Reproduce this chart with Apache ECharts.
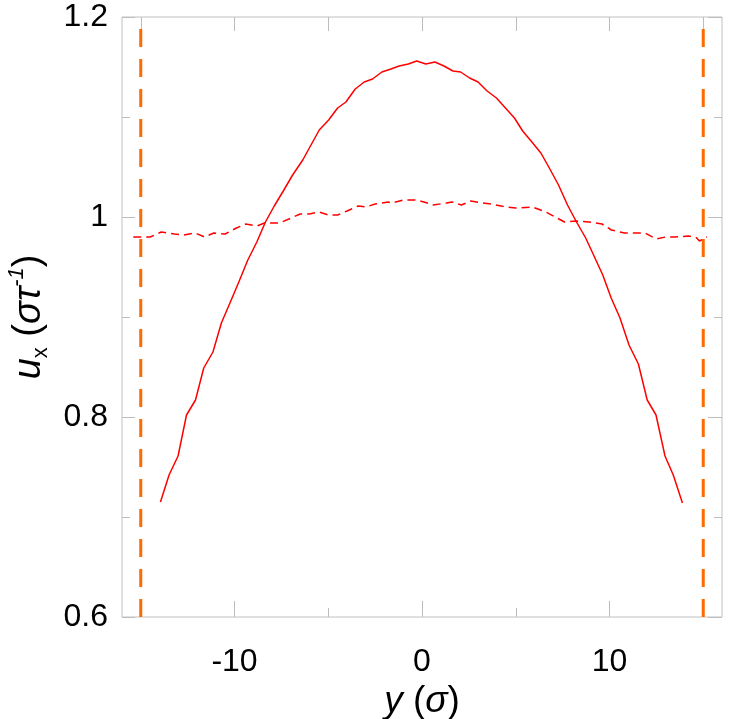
<!DOCTYPE html>
<html>
<head>
<meta charset="UTF-8">
<script src="https://cdn.jsdelivr.net/npm/echarts@6/dist/echarts.min.js"></script>
<style>
    html, body { margin: 0; padding: 0; background: #ffffff; }
    #container { width: 733px; height: 719px; }
</style>
</head>
<body>
<div id="container"></div>
<script>
// solid curve (flow profile)
var solidX = [-13.95, -13.49, -13.01, -12.56, -12.08, -11.64, -11.15, -10.70, -10.22, -9.77,
              -9.29, -8.81, -8.35, -7.88, -7.43, -6.90, -6.36, -5.92, -5.48, -4.98,
              -4.50, -4.06, -3.56, -3.08, -2.64, -2.14, -1.66, -1.22, -0.73, -0.28,
              0.20, 0.69, 1.17, 1.65, 2.06, 2.54, 2.99, 3.47, 3.97, 4.45,
              4.93, 5.37, 5.86, 6.34, 6.79, 7.28, 7.76, 8.24, 8.73, 9.20,
              9.64, 10.09, 10.56, 11.04, 11.54, 12.01, 12.48, 12.96, 13.40, 13.89];
var solidY = [0.715, 0.742, 0.761, 0.802, 0.817, 0.849, 0.865, 0.894, 0.915, 0.935,
              0.957, 0.975, 0.995, 1.011, 1.025, 1.042, 1.057, 1.072, 1.087, 1.097,
              1.109, 1.115, 1.128, 1.135, 1.138, 1.145, 1.148, 1.151, 1.153, 1.156,
              1.153, 1.155, 1.151, 1.146, 1.145, 1.139, 1.135, 1.126, 1.119, 1.109,
              1.099, 1.086, 1.075, 1.064, 1.049, 1.032, 1.012, 0.995, 0.979, 0.960,
              0.942, 0.919, 0.899, 0.872, 0.853, 0.817, 0.802, 0.761, 0.742, 0.714];

// dashed curve (nearly flat profile)
var dashX = [-15.4, -14.5, -13.9, -13.2, -12.7, -12.1, -11.6, -11.1, -10.5, -9.9,
             -9.4, -8.8, -8.4, -7.6, -7.1, -6.5, -6.0, -5.5, -5.0, -4.5,
             -4.0, -3.4, -3.0, -2.5, -1.8, -1.6, -1.0, -0.3, 0.1, 0.6,
             1.3, 1.6, 2.1, 2.6, 3.2, 3.7, 4.5, 5.0, 5.9, 6.6,
             7.1, 7.6, 8.2, 8.9, 9.6, 10.1, 10.8, 11.9, 12.5, 13.0,
             13.5, 14.2, 14.6, 14.8, 15.2];
var dashY = [0.980, 0.980, 0.985, 0.983, 0.982, 0.984, 0.980, 0.984, 0.983, 0.989,
             0.993, 0.991, 0.994, 0.994, 0.998, 1.003, 1.003, 1.005, 1.002, 1.002,
             1.006, 1.011, 1.010, 1.013, 1.015, 1.014, 1.017, 1.017, 1.015, 1.012,
             1.014, 1.015, 1.012, 1.016, 1.014, 1.013, 1.010, 1.009, 1.010, 1.005,
             1.000, 0.995, 0.996, 0.995, 0.993, 0.987, 0.984, 0.984, 0.978, 0.980,
             0.980, 0.981, 0.980, 0.976, 0.980];

// walls
var wallX = [-15, 15];
var wallY = [0.6, 1.2];

// ticks
var xTickLabels = [-10, 0, 10];
var xMinorTicks = [-5, 5];
var xTopTicks = [-15, -10, -5, 0, 5, 10, 15];
var yTickLabels = [0.6, 0.8, 1, 1.2];
var yMinorTicks = [0.7, 0.9, 1.1];

function pairs(xs, ys) {
    var out = [];
    for (var i = 0; i < xs.length; i++) {
        out.push([xs[i], ys[i]]);
    }
    return out;
}

var font = '"Liberation Sans", Arial, sans-serif';
var tickColor = '#bdbdbd';

function tickAxis(pos, values, len, labels) {
    return {
        type: 'value',
        position: pos,
        axisLine: { show: false, onZero: false },
        splitLine: { show: false },
        axisTick: { show: true, inside: true, length: len, customValues: values,
                    lineStyle: { color: tickColor, width: 1 } },
        axisLabel: labels ? labels : { show: false }
    };
}

var x0 = tickAxis('bottom', xTickLabels, 16, {
    customValues: xTickLabels, fontSize: 32, fontFamily: font, color: '#000', margin: 29
});
x0.min = -16; x0.max = 16;
x0.name = '{i|y}{n| (}{i|σ}{n|)}';
x0.nameLocation = 'middle';
x0.nameGap = 42;
x0.nameTextStyle = {
    rich: {
        i: { fontSize: 37, fontStyle: 'italic', fontFamily: font, color: '#000' },
        n: { fontSize: 37, fontFamily: font, color: '#000' }
    }
};
var x1 = tickAxis('bottom', xMinorTicks, 9);
x1.min = -16; x1.max = 16;
var x2 = tickAxis('top', xTopTicks, 14);
x2.min = -16; x2.max = 16;

var y0 = tickAxis('left', yTickLabels, 13, {
    customValues: yTickLabels, fontSize: 32, fontFamily: font, color: '#000', margin: 14
});
y0.min = 0.6; y0.max = 1.2;
y0.name = '{i|u}{sub|x}{n| (}{i|στ}{sup|-1}{n|)}';
y0.nameLocation = 'middle';
y0.nameRotate = 90;
y0.nameGap = 70;
y0.nameTextStyle = {
    rich: {
        i: { fontSize: 38, fontStyle: 'italic', fontFamily: font, color: '#000', lineHeight: 46 },
        n: { fontSize: 38, fontFamily: font, color: '#000', lineHeight: 46 },
        sub: { fontSize: 22, fontFamily: font, color: '#000', lineHeight: 24, verticalAlign: 'bottom' },
        sup: { fontSize: 22, fontStyle: 'italic', fontFamily: font, color: '#000', lineHeight: 24, verticalAlign: 'top' }
    }
};
var y1 = tickAxis('left', yMinorTicks, 8);
y1.min = 0.6; y1.max = 1.2;
var y2 = tickAxis('right', yTickLabels, 14);
y2.min = 0.6; y2.max = 1.2;
var y3 = tickAxis('right', yMinorTicks, 8);
y3.min = 0.6; y3.max = 1.2;

var option = {
    animation: false,
    backgroundColor: '#ffffff',
    grid: {
        left: 122, right: 11, top: 17, bottom: 102,
        outerBoundsMode: 'none', containLabel: false,
        show: true, borderColor: '#c0c0c0', borderWidth: 1
    },
    xAxis: [x0, x1, x2],
    yAxis: [y0, y1, y2, y3],
    series: [
        {
            name: 'wall left', type: 'line', symbol: 'none',
            data: [[wallX[0], wallY[0]], [wallX[0], wallY[1]]],
            lineStyle: { color: '#ff6a00', width: 3, type: [18, 12] }
        },
        {
            name: 'wall right', type: 'line', symbol: 'none',
            data: [[wallX[1], wallY[0]], [wallX[1], wallY[1]]],
            lineStyle: { color: '#ff6a00', width: 3, type: [18, 12] }
        },
        {
            name: 'dashed', type: 'line', symbol: 'none',
            data: pairs(dashX, dashY),
            lineStyle: { color: '#ff0000', width: 1.5, type: [8, 5] }
        },
        {
            name: 'solid', type: 'line', symbol: 'none',
            data: pairs(solidX, solidY),
            lineStyle: { color: '#ff0000', width: 1.5 }
        }
    ]
};

var chart = echarts.init(document.getElementById('container'));
chart.setOption(option);
</script>
</body>
</html>
